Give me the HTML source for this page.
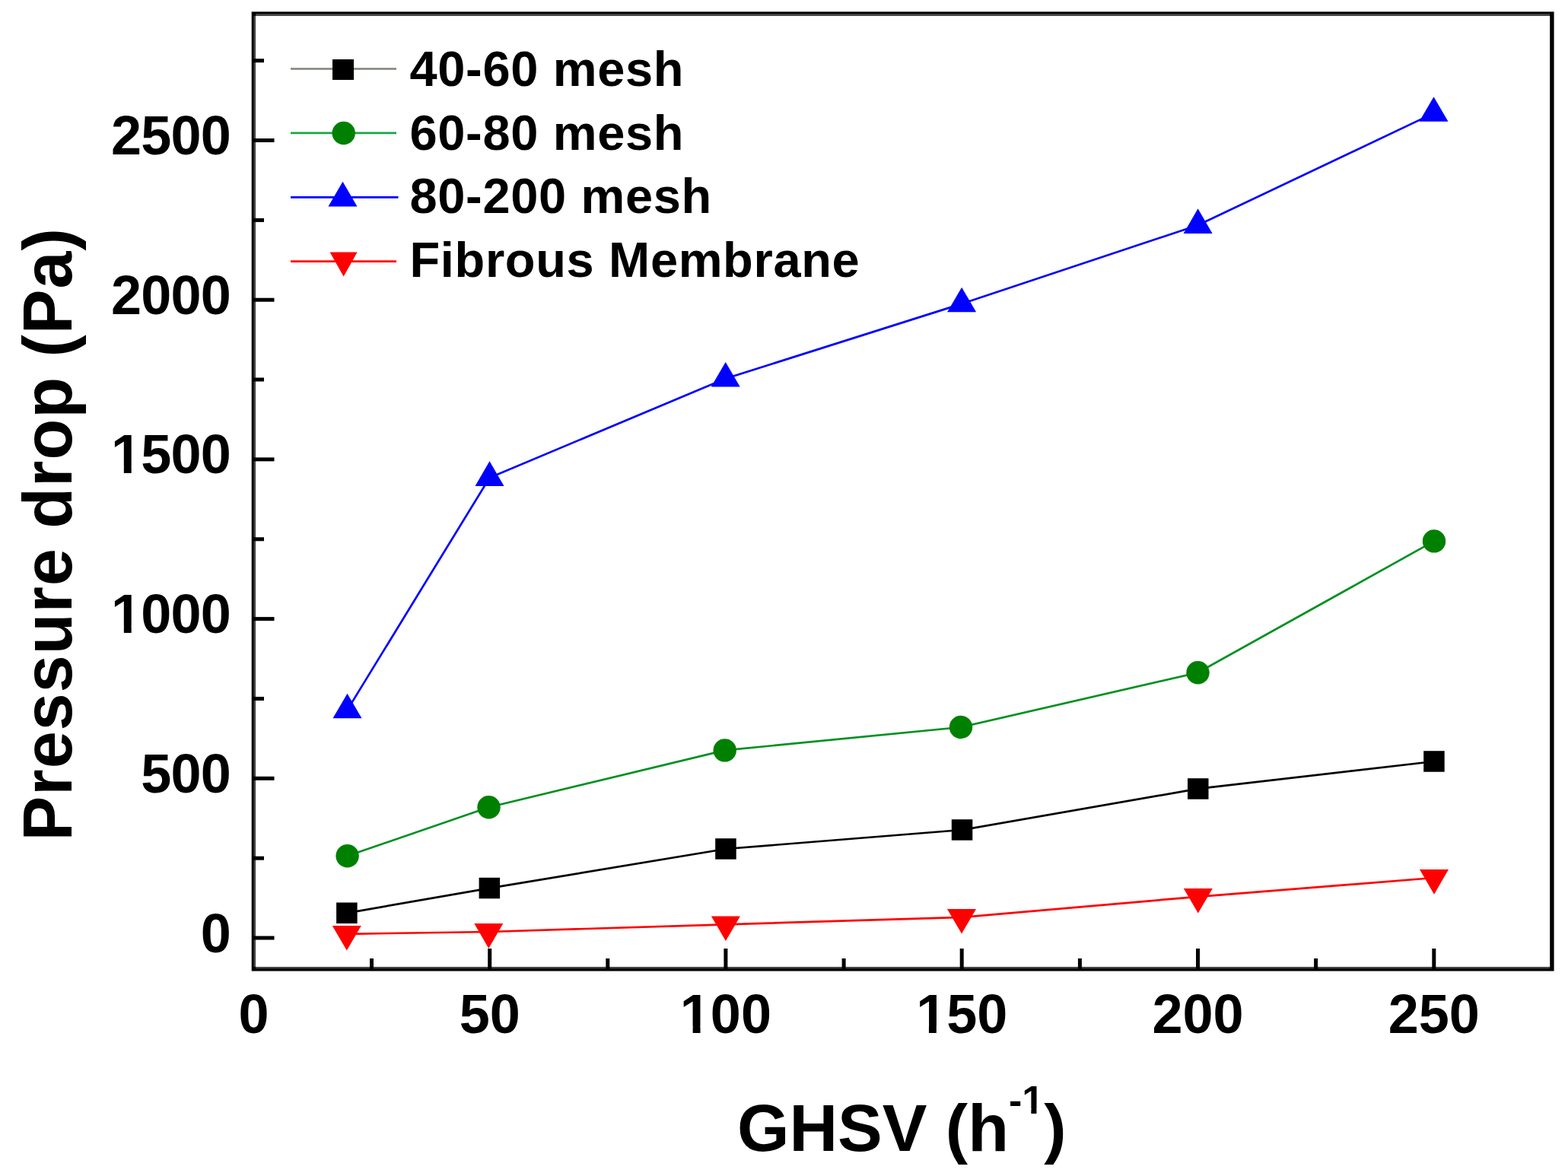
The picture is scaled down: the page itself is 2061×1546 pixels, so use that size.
<!DOCTYPE html>
<html><head><meta charset="utf-8"><title>Pressure drop vs GHSV</title><style>html,body{margin:0;padding:0;background:#fff;overflow:hidden}svg{display:block}</style></head><body>
<svg width="2061" height="1546" viewBox="0 0 2061 1546">
<rect width="2061" height="1546" fill="#ffffff"/>
<rect x="333.4" y="18.1" width="1706.5" height="1255.8" fill="none" stroke="#000" stroke-width="5.4"/>
<g fill="#4a4a48"><rect x="333.6" y="20.8" width="2.4" height="1250.2"/><rect x="336" y="18.2" width="1701" height="2.6"/><rect x="336" y="1271.2" width="1701" height="2"/></g>
<g stroke="#000" stroke-width="5" fill="none"><line x1="643.7" y1="1274" x2="643.7" y2="1247"/><line x1="953.9" y1="1274" x2="953.9" y2="1247"/><line x1="1264.2" y1="1274" x2="1264.2" y2="1247"/><line x1="1574.5" y1="1274" x2="1574.5" y2="1247"/><line x1="1884.8" y1="1274" x2="1884.8" y2="1247"/><line x1="488.5" y1="1274" x2="488.5" y2="1260"/><line x1="798.8" y1="1274" x2="798.8" y2="1260"/><line x1="1109.1" y1="1274" x2="1109.1" y2="1260"/><line x1="1419.4" y1="1274" x2="1419.4" y2="1260"/><line x1="1729.6" y1="1274" x2="1729.6" y2="1260"/><line x1="333" y1="1233.0" x2="360.5" y2="1233.0"/><line x1="333" y1="1023.3" x2="360.5" y2="1023.3"/><line x1="333" y1="813.6" x2="360.5" y2="813.6"/><line x1="333" y1="603.9" x2="360.5" y2="603.9"/><line x1="333" y1="394.2" x2="360.5" y2="394.2"/><line x1="333" y1="184.5" x2="360.5" y2="184.5"/><line x1="333" y1="1128.2" x2="347" y2="1128.2"/><line x1="333" y1="918.5" x2="347" y2="918.5"/><line x1="333" y1="708.8" x2="347" y2="708.8"/><line x1="333" y1="499.0" x2="347" y2="499.0"/><line x1="333" y1="289.4" x2="347" y2="289.4"/><line x1="333" y1="79.7" x2="347" y2="79.7"/></g>
<polyline points="455.8,1200.3 643.4,1167.6 954.0,1116.0 1264.5,1091.0 1574.8,1036.9 1885.0,1001.0" fill="none" stroke="#000" stroke-width="2.7"/>
<polyline points="456.6,1125.3 642.5,1061.3 952.7,986.4 1263.0,956.0 1574.5,884.2 1885.0,711.4" fill="none" stroke="#009020" stroke-width="2.7"/>
<polyline points="456.5,933.4 643.5,628.0 953.7,497.7 1264.1,399.4 1574.6,296.0 1884.5,148.9" fill="none" stroke="#0000ff" stroke-width="2.7"/>
<polyline points="455.8,1227.8 642.3,1225.0 953.9,1215.3 1264.0,1205.9 1574.8,1178.8 1885.0,1154.0" fill="none" stroke="#ff0000" stroke-width="2.7"/>
<g fill="#000"><rect x="442.1" y="1186.5" width="27.5" height="27.5"/><rect x="629.6" y="1153.8" width="27.5" height="27.5"/><rect x="940.2" y="1102.2" width="27.5" height="27.5"/><rect x="1250.8" y="1077.2" width="27.5" height="27.5"/><rect x="1561.0" y="1023.2" width="27.5" height="27.5"/><rect x="1871.2" y="987.2" width="27.5" height="27.5"/></g>
<g fill="#008000"><circle cx="456.6" cy="1125.3" r="15.2"/><circle cx="642.5" cy="1061.3" r="15.2"/><circle cx="952.7" cy="986.4" r="15.2"/><circle cx="1263.0" cy="956.0" r="15.2"/><circle cx="1574.5" cy="884.2" r="15.2"/><circle cx="1885.0" cy="711.4" r="15.2"/></g>
<g fill="#0000ff"><polygon points="456.5,911.7 475.5,944.3 437.5,944.3"/><polygon points="643.5,606.3 662.5,638.9 624.5,638.9"/><polygon points="953.7,476.0 972.7,508.6 934.7,508.6"/><polygon points="1264.1,377.7 1283.1,410.3 1245.1,410.3"/><polygon points="1574.6,274.3 1593.6,306.9 1555.6,306.9"/><polygon points="1884.5,127.2 1903.5,159.8 1865.5,159.8"/></g>
<g fill="#ff0000"><polygon points="436.8,1216.9 474.8,1216.9 455.8,1249.5"/><polygon points="623.3,1214.1 661.3,1214.1 642.3,1246.7"/><polygon points="934.9,1204.4 972.9,1204.4 953.9,1237.0"/><polygon points="1245.0,1195.0 1283.0,1195.0 1264.0,1227.6"/><polygon points="1555.8,1167.9 1593.8,1167.9 1574.8,1200.5"/><polygon points="1866.0,1143.1 1904.0,1143.1 1885.0,1175.7"/></g>
<line x1="382" y1="90.5" x2="521" y2="90.5" stroke="#7b8478" stroke-width="2.7"/>
<rect x="437" y="78" width="28" height="27" fill="#000"/>
<line x1="382" y1="174.9" x2="521" y2="174.9" stroke="#14a844" stroke-width="2.7"/>
<circle cx="451.7" cy="175" r="15.2" fill="#008000"/>
<line x1="382" y1="259.3" x2="523.5" y2="259.3" stroke="#0000ff" stroke-width="2.7"/>
<g fill="#0000ff"><polygon points="450.5,238.8 469.5,271.4 431.5,271.4"/></g>
<line x1="382" y1="343.6" x2="521" y2="343.6" stroke="#ff0000" stroke-width="2.7"/>
<g fill="#ff0000"><polygon points="433.6,331.5 469.6,331.5 451.6,363.5"/></g>
<g font-family="Liberation Sans, Arial, sans-serif" font-weight="bold" font-size="65" letter-spacing="0.65" fill="#000"><text x="538.5" y="113.2">40-60 mesh</text><text x="538.5" y="196.8">60-80 mesh</text><text x="538.5" y="279.5">80-200 mesh</text><text x="538.5" y="363.6">Fibrous Membrane</text></g>
<g font-family="Liberation Sans, Arial, sans-serif" font-weight="bold" font-size="72" fill="#000"><text x="333.4" y="1358" text-anchor="middle">0</text><text x="643.7" y="1358" text-anchor="middle">50</text><text x="953.9" y="1358" text-anchor="middle">100</text><text x="1264.2" y="1358" text-anchor="middle">150</text><text x="1574.5" y="1358" text-anchor="middle">200</text><text x="1884.8" y="1358" text-anchor="middle">250</text><text x="303" y="1251.5" text-anchor="end" letter-spacing="-0.8">0</text><text x="303" y="1041.8" text-anchor="end" letter-spacing="-0.8">500</text><text x="303" y="832.1" text-anchor="end" letter-spacing="-0.8">1000</text><text x="303" y="622.4" text-anchor="end" letter-spacing="-0.8">1500</text><text x="303" y="412.7" text-anchor="end" letter-spacing="-0.8">2000</text><text x="303" y="203.0" text-anchor="end" letter-spacing="-0.8">2500</text></g>
<text font-family="Liberation Sans, Arial, sans-serif" font-weight="bold" font-size="88" x="969" y="1513.3" fill="#000">GHSV (h<tspan font-size="52" dy="-49">-1</tspan><tspan dy="49">)</tspan></text>
<text font-family="Liberation Sans, Arial, sans-serif" font-weight="bold" font-size="88" letter-spacing="1.06" transform="translate(93.8,1105.4) rotate(-90) scale(1,1.035)" fill="#000">Pressure drop (Pa)</text>
<g fill="#ffffff"><rect x="897.37" y="1349.05" width="13.27" height="10.35"/><rect x="920.51" y="1349.05" width="12.36" height="10.35"/><rect x="1207.67" y="1349.05" width="13.27" height="10.35"/><rect x="1230.81" y="1349.05" width="12.36" height="10.35"/><rect x="149.56" y="823.15" width="13.27" height="10.35"/><rect x="172.70" y="823.15" width="12.36" height="10.35"/><rect x="149.56" y="613.45" width="13.27" height="10.35"/><rect x="172.70" y="613.45" width="12.36" height="10.35"/><rect x="1345.50" y="1457.39" width="9.86" height="8.31"/><rect x="1362.49" y="1457.39" width="9.20" height="8.31"/></g>
</svg>
</body></html>
